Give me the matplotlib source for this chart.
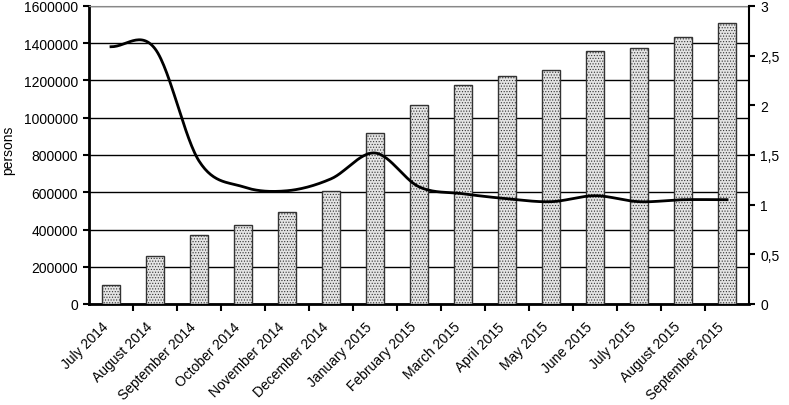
import numpy as np
import matplotlib.pyplot as plt
from matplotlib.ticker import FuncFormatter, FixedLocator
from matplotlib.transforms import ScaledTranslation

plt.rcParams['font.family'] = ['Liberation Sans', 'DejaVu Sans']
plt.rcParams['hatch.color'] = '#a8a8a8'
plt.rcParams['hatch.linewidth'] = 0.5

months = ["July 2014", "August 2014", "September 2014", "October 2014",
          "November 2014", "December 2014", "January 2015", "February 2015",
          "March 2015", "April 2015", "May 2015", "June 2015", "July 2015",
          "August 2015", "September 2015"]
persons = [100000, 258000, 370000, 426000, 494000, 607000, 918000, 1068000,
           1176000, 1224000, 1256000, 1358000, 1374000, 1433000, 1509000]
ratio = [2.59, 2.57, 1.44, 1.18, 1.14, 1.26, 1.52, 1.18,
         1.11, 1.06, 1.03, 1.09, 1.03, 1.05, 1.05]


def smooth(y, n=30):
    # catmull-rom, like the smoothed line in excel
    y = np.asarray(y, float)
    p = np.concatenate([[y[0]], y, [y[-1]]])
    xs, ys = [], []
    for i in range(len(y) - 1):
        p0, p1, p2, p3 = p[i], p[i + 1], p[i + 2], p[i + 3]
        m1 = (p2 - p0) / 2
        m2 = (p3 - p1) / 2
        t = np.linspace(0, 1, n, endpoint=False)
        h00 = 2 * t**3 - 3 * t**2 + 1
        h10 = t**3 - 2 * t**2 + t
        h01 = -2 * t**3 + 3 * t**2
        h11 = t**3 - t**2
        xs.append(i + t)
        ys.append(h00 * p1 + h10 * m1 + h01 * p2 + h11 * m2)
    xs.append([len(y) - 1])
    ys.append([y[-1]])
    return np.concatenate(xs), np.concatenate(ys)


fig = plt.figure(figsize=(7.89, 4.06), dpi=100)
ax = fig.add_axes([89 / 789, 1 - 305 / 406, 660 / 789, 298 / 406])
x = np.arange(len(months))

ax.bar(x, persons, width=0.4, facecolor='#e4e4e4', edgecolor='#333333',
       linewidth=1, hatch='......', zorder=3)
ax.set_xlim(-0.5, len(months) - 0.5)
ax.set_ylim(0, 1600000)
ax.set_yticks(np.arange(0, 1600001, 200000))
ax.yaxis.set_major_formatter(FuncFormatter(lambda v, p: '%d' % v))
ax.yaxis.grid(True, color='black', linewidth=1)
ax.set_axisbelow(True)
ax.tick_params(axis='y', labelsize=10, length=4, width=1.5, pad=4)

ax.set_xticks(x)
ax.set_xticklabels(months, rotation=45, ha='right', rotation_mode='anchor',
                   fontsize=10)
ax.tick_params(axis='x', which='major', length=0, pad=11)
shift = ScaledTranslation(-7 / 72, 0, fig.dpi_scale_trans)
for lab in ax.get_xticklabels():
    lab.set_transform(lab.get_transform() + shift)
ax.xaxis.set_minor_locator(FixedLocator(np.arange(0.5, len(months) - 1, 1)))
ax.tick_params(axis='x', which='minor', length=5, width=1.5)

for s in ['left', 'bottom']:
    ax.spines[s].set_linewidth(2)
ax.spines['top'].set_color('#888888')
ax.spines['right'].set_visible(False)

ax2 = ax.twinx()
sx, sy = smooth(ratio)
ax2.plot(sx, sy, color='black', lw=2, zorder=5)
ax2.set_ylim(0, 3)
ax2.set_yticks(np.arange(0, 3.01, 0.5))
ax2.yaxis.set_major_formatter(FuncFormatter(lambda v, p: ('%g' % v).replace('.', ',')))
ax2.tick_params(axis='y', labelsize=10, length=4, width=1.5, pad=4)
ax2.spines['right'].set_linewidth(1.5)
for s in ['top', 'left', 'bottom']:
    ax2.spines[s].set_visible(False)

fig.text(8 / 789, 1 - 150 / 406, 'persons', rotation=90, ha='center',
         va='center', fontsize=10)

fig.savefig('out.png', dpi=100)
